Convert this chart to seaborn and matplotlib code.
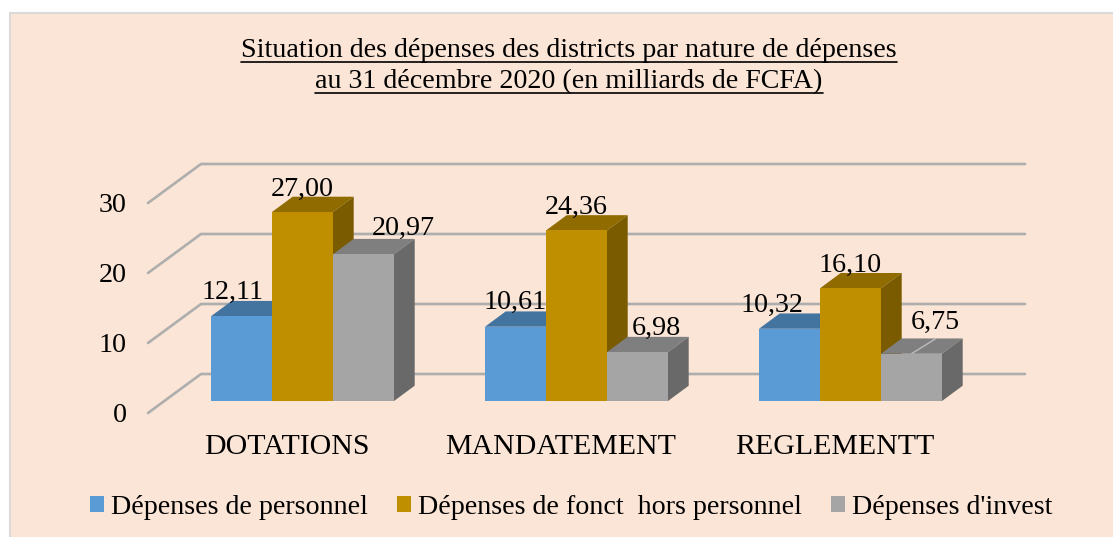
import matplotlib
matplotlib.use("Agg")
import matplotlib.pyplot as plt
import matplotlib.transforms as mtrans
from matplotlib.patches import Polygon, Rectangle
from matplotlib.lines import Line2D
import pandas as pd
import seaborn as sns

categories = ["DOTATIONS", "MANDATEMENT", "REGLEMENTT"]
series_names = ["Dépenses de personnel", "Dépenses de fonct  hors personnel", "Dépenses d'invest"]
personnel = [12.11, 10.61, 10.32]
fonct = [27.00, 24.36, 16.10]
invest = [20.97, 6.98, 6.75]
y_ticks = [0, 10, 20, 30]
title_lines = ["Situation des dépenses des districts par nature de dépenses",
               "au 31 décembre 2020 (en milliards de FCFA)"]

W, H = 1113, 537
BG = "#FBE5D6"
front = ["#5B9BD5", "#BF8F00", "#A5A5A5"]
top_c = ["#4374A0", "#8F6B00", "#7F7F7F"]
side_c = ["#3F6A92", "#7A5B00", "#696969"]
GRID = "#AEAEAE"
FONT = "Liberation Serif"
FS = 20.2

sns.set_theme(style="white")
plt.rcParams["font.family"] = [FONT, "DejaVu Serif"]

fig = plt.figure(figsize=(W / 100, H / 100), dpi=100, facecolor="white")
fig.add_artist(Rectangle((10 / W, -10 / H), (W + 10) / W, (H - 12.5 + 10) / H, transform=fig.transFigure,
                         facecolor=BG, edgecolor="#D9D9D9", linewidth=1.5, zorder=-5))
ax = fig.add_axes([165.5 / W, (H - 401) / H, 822 / W, 224 / H])
ax.patch.set_alpha(0)

df = pd.DataFrame({
    "cat": categories * 3,
    "val": personnel + fonct + invest,
    "serie": [s for s in series_names for _ in categories],
})
sns.barplot(data=df, x="cat", y="val", hue="serie", hue_order=series_names, order=categories,
            palette=front, saturation=1, width=183 / 274, gap=0, ax=ax, legend=False)
ax.set_xlim(-0.5, 2.5)
ax.set_ylim(0, 32)
ax.set_xlabel("")
ax.set_ylabel("")
sns.despine(ax=ax, left=True, bottom=True)
ax.grid(False)

pix = mtrans.IdentityTransform()
# 3-D wall lines, from the value axis
px_to_x = lambda px: -0.5 + (px - 165.5) / 274
for v in y_ticks:
    ax.add_line(Line2D([px_to_x(148), px_to_x(201), px_to_x(1025)],
                       [v - 12 / 7, v + 27 / 7, v + 27 / 7], color=GRID, lw=1.9, zorder=0.5,
                       clip_on=False, solid_joinstyle="round"))

# depth of the bars
DX, DY = 20.7, 15.3
label_off = [[(-9, 24), (0, 24), (-18, 23)],
             [(0, 23), (0, 23), (0, 23)],
             [(40, 26), (18.5, 24), (24, 31)]]
tick_fmt = lambda v: f"{v:.2f}".replace(".", ",")
for s, cont in enumerate(ax.containers):
    for c, bar in enumerate(cont):
        x0, w, h = bar.get_x(), bar.get_width(), bar.get_height()
        z = 2 + c * 3 + s * 0.5
        bar.set_zorder(z + 0.2)
        bar.set_edgecolor("none")
        p0 = ax.transData.transform((x0, h))
        p1 = ax.transData.transform((x0 + w, h))
        p2 = ax.transData.transform((x0 + w, 0))
        ax.add_patch(Polygon([p0, p1, p1 + [DX, DY], p0 + [DX, DY]], closed=True, transform=pix,
                             facecolor=top_c[s], edgecolor="none", zorder=z, clip_on=False))
        ax.add_patch(Polygon([p1, p2, p2 + [DX, DY], p1 + [DX, DY]], closed=True, transform=pix,
                             facecolor=side_c[s], edgecolor="none", zorder=z, clip_on=False))
        ox, oy = label_off[s][c]
        ax.annotate(tick_fmt(h), xy=(x0 + w / 2, h), xytext=(ox * 0.72, oy * 0.72),
                    textcoords="offset points", ha="center", va="center", fontsize=FS,
                    color="black", zorder=20, annotation_clip=False)
        if s == 2 and c == 2:
            mid = ax.transData.transform((x0 + w / 2, h))
            ax.add_line(Line2D([mid[0], mid[0] + 24], [mid[1], mid[1] + 15], transform=pix,
                               color="#BDBDBD", lw=1, zorder=z + 0.1, clip_on=False))

# ticks
ax.set_xticks(range(3), categories)
ax.set_yticks(y_ticks, [str(v) for v in y_ticks])
ax.tick_params(axis="y", length=0, labelsize=FS, labelcolor="black")
ax.tick_params(axis="x", length=0, labelsize=21.5, labelcolor="black")
for lab in ax.get_xticklabels():
    lab.set_transform(lab.get_transform() + mtrans.Affine2D().translate(-15.5, -28))
for lab in ax.get_yticklabels():
    lab.set_transform(lab.get_transform() + mtrans.Affine2D().translate(-34, -11))

# title
fig.canvas.draw()
rend = fig.canvas.get_renderer()
for line, yb in zip(title_lines, [57, 88]):
    t = fig.text(569 / W, 1 - yb / H, line, ha="center", va="baseline", fontsize=FS, color="black")
    bb = t.get_window_extent(rend)
    fig.add_artist(Line2D([bb.x0 / W, bb.x1 / W], [1 - (yb + 4.5) / H] * 2, color="black", lw=1.2,
                          transform=fig.transFigure))

# legend
handles = [Rectangle((0, 0), 1, 1, facecolor=c, edgecolor="none") for c in front]
leg = fig.legend(handles, series_names, loc="center", bbox_to_anchor=(571 / W, 1 - 507 / H),
                 ncol=3, frameon=False, fontsize=FS, handlelength=0.5, handleheight=0.5,
                 handletextpad=0.25, columnspacing=1.03, borderpad=0, labelcolor="black")

fig.savefig("out.png", dpi=100, facecolor="white")
